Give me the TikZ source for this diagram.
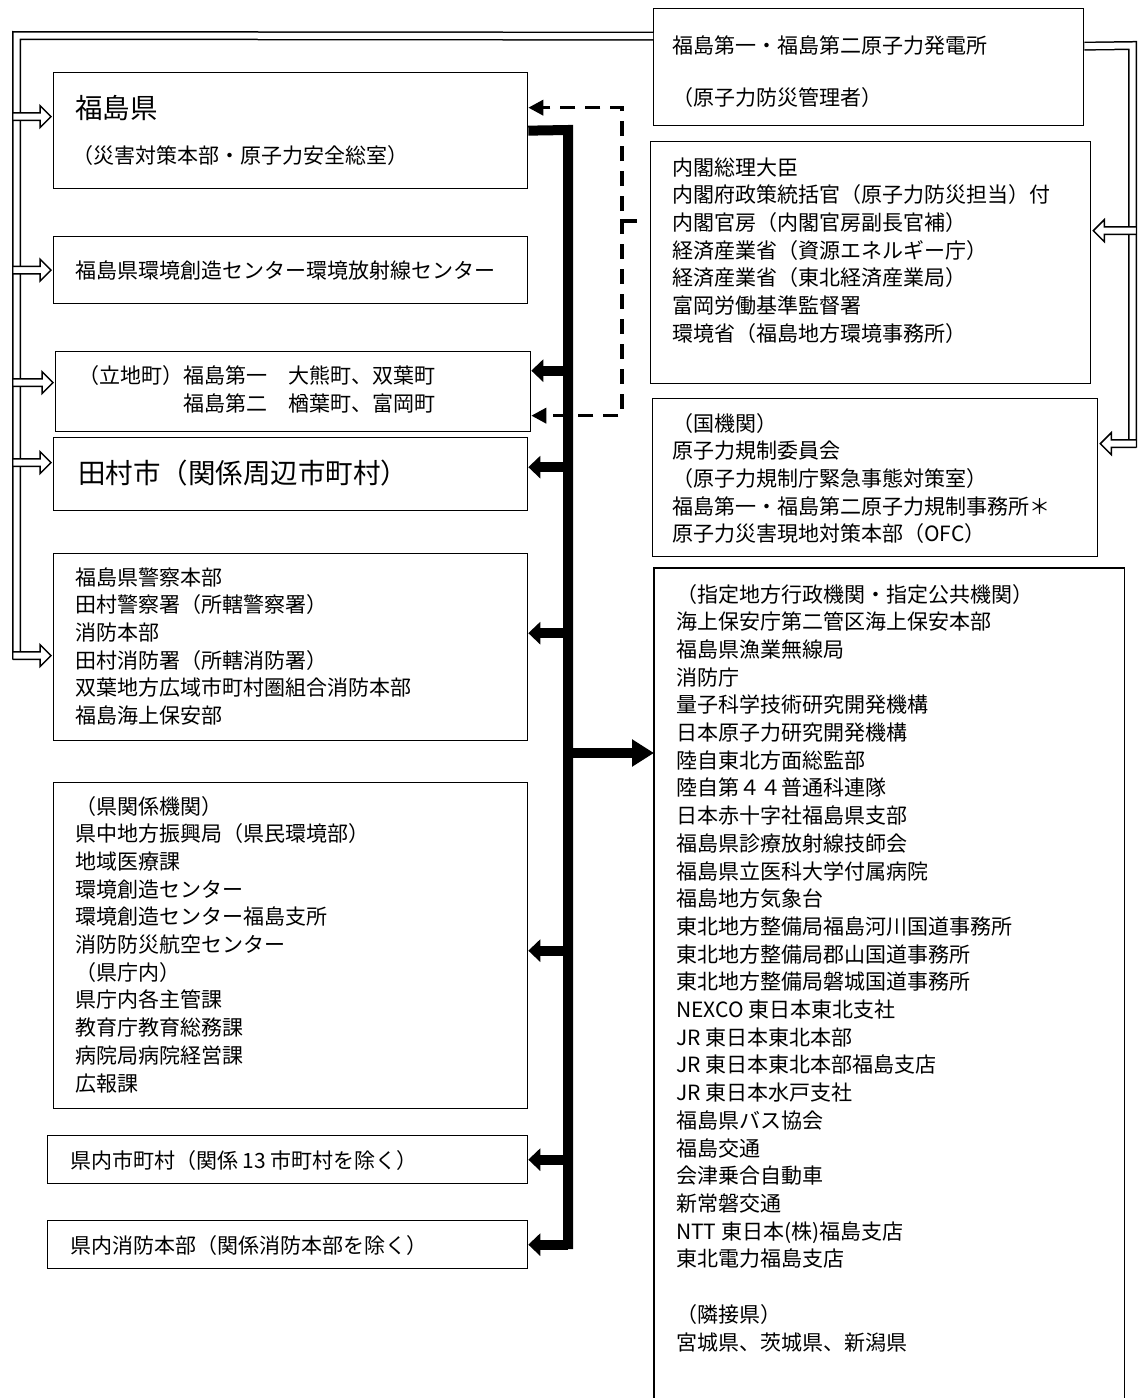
\documentclass[tikz,border=0pt]{standalone}
\usepackage{fontspec}
\newfontfamily\jp{Noto Sans CJK JP}
\usetikzlibrary{calc,arrows.meta}
\newcommand\hArrR[2]{%
  \fill[white] ($(#1|-#2)+(0.75,-3.75)$) -- ($(#2)+(-11,-3.75)$) -- ($(#2)+(-11,-11)$) -- (#2) -- ($(#2)+(-11,11)$) -- ($(#2)+(-11,3.75)$) -- ($(#1|-#2)+(0.75,3.75)$) -- cycle;
  \draw[hol] ($(#1|-#2)+(0,-3.75)$) -- ($(#2)+(-11,-3.75)$) -- ($(#2)+(-11,-11)$) -- (#2) -- ($(#2)+(-11,11)$) -- ($(#2)+(-11,3.75)$) -- ($(#1|-#2)+(0,3.75)$);}
\newcommand\hArrL[2]{%
  \fill[white] ($(#1|-#2)+(-0.75,-3.75)$) -- ($(#2)+(11,-3.75)$) -- ($(#2)+(11,-11)$) -- (#2) -- ($(#2)+(11,11)$) -- ($(#2)+(11,3.75)$) -- ($(#1|-#2)+(-0.75,3.75)$) -- cycle;
  \draw[hol] ($(#1|-#2)+(0,-3.75)$) -- ($(#2)+(11,-3.75)$) -- ($(#2)+(11,-11)$) -- (#2) -- ($(#2)+(11,11)$) -- ($(#2)+(11,3.75)$) -- ($(#1|-#2)+(0,3.75)$);}
\begin{document}
\begin{tikzpicture}[x=1pt,y=-1pt,
  font=\jp\fontsize{21}{27}\selectfont,
  box/.style={draw, line width=1.3pt, inner sep=0pt, anchor=north west},
  txt/.style={anchor=west, inner sep=0pt, text height=17.5pt, text depth=1.5pt},
  big/.style={font=\jp\fontsize{27.5}{34}\selectfont, text height=23pt, text depth=2pt},
  bus/.style={line width=10pt, line join=miter},
  tarr/.style={line width=10pt, -{Triangle[width=22pt,length=12pt]}},
  bigarr/.style={line width=10pt, -{Triangle[width=26pt,length=22pt]}},
  dashln/.style={line width=3.5pt, dash pattern=on 15pt off 10pt},
  dasharr/.style={dashln, -{Triangle[width=15pt,length=15pt]}},
  dbl/.style={line width=1.5pt, double=white, double distance=6pt, line join=miter},
  hol/.style={line width=1.5pt, line join=miter}
]
\useasboundingbox (0,0) rectangle (1142,1398);

% ---------- left boxes ----------
\node[box, minimum width=474pt, minimum height=116pt] (fk) at (53,72) {};
\node[box, minimum width=474pt, minimum height=67pt] (env) at (53,236) {};
\node[box, minimum width=475pt, minimum height=80pt] (rc) at (55,351) {};
\node[box, minimum width=474pt, minimum height=73pt] (tm) at (53,437) {};
\node[box, minimum width=474pt, minimum height=187pt] (pol) at (53,553) {};
\node[box, minimum width=474pt, minimum height=326pt] (pref) at (53,782) {};
\node[box, minimum width=480pt, minimum height=48pt] (mun) at (47,1135) {};
\node[box, minimum width=480pt, minimum height=48pt] (fd) at (47,1220) {};

% ---------- right boxes ----------
\node[box, minimum width=430pt, minimum height=117pt] (npp) at (653,8) {};
\node[box, minimum width=440pt, minimum height=242pt] (cab) at (650,141) {};
\node[box, minimum width=445pt, minimum height=158pt] (nra) at (652,398) {};
\node[anchor=north west, inner sep=0pt, minimum width=470pt, minimum height=840pt] (reg) at (654,568) {};
\draw[line width=1.3pt] (reg.south west) -- (reg.north west) -- (reg.north east) -- (reg.south east);

% ---------- texts ----------
\node[txt,big] (fk1) at (75,108) {福島県};
\node[txt] (fk2) at (72,155) {（災害対策本部・原子力安全総室）};
\node[txt] (env1) at (75,270) {福島県環境創造センター環境放射線センター};
\node[txt] (rct1) at (78,375) {（立地町）福島第一　大熊町、双葉町};
\node[txt] (rct2) at (183,403) {福島第二　楢葉町、富岡町};
\node[txt,big] (tm1) at (78,473) {田村市（関係周辺市町村）};
\foreach \lbl [count=\i] in {福島県警察本部,田村警察署（所轄警察署）,消防本部,田村消防署（所轄消防署）,双葉地方広域市町村圏組合消防本部,福島海上保安部}
  \node[txt] (polt\i) at (75,{577+27.7*(\i-1)}) {\lbl};
\foreach \lbl [count=\i] in {（県関係機関）,県中地方振興局（県民環境部）,地域医療課,環境創造センター,環境創造センター福島支所,消防防災航空センター,（県庁内）,県庁内各主管課,教育庁教育総務課,病院局病院経営課,広報課}
  \node[txt] (preft\i) at (75,{806+27.7*(\i-1)}) {\lbl};
\node[txt] (mun1) at (70,1160) {県内市町村（関係 13 市町村を除く）};
\node[txt] (fd1) at (70,1245) {県内消防本部（関係消防本部を除く）};

\node[txt] (npp1) at (672,45) {福島第一・福島第二原子力発電所};
\node[txt] (npp2) at (672,97) {（原子力防災管理者）};
\foreach \lbl [count=\i] in {内閣総理大臣,内閣府政策統括官（原子力防災担当）付,内閣官房（内閣官房副長官補）,経済産業省（資源エネルギー庁）,経済産業省（東北経済産業局）,富岡労働基準監督署,環境省（福島地方環境事務所）}
  \node[txt] (cabt\i) at (672,{167+27.7*(\i-1)}) {\lbl};
\foreach \lbl [count=\i] in {（国機関）,原子力規制委員会,（原子力規制庁緊急事態対策室）,福島第一・福島第二原子力規制事務所＊,原子力災害現地対策本部（OFC）}
  \node[txt] (nrat\i) at (672,{423+27.7*(\i-1)}) {\lbl};
\foreach \lbl [count=\i] in {（指定地方行政機関・指定公共機関）,海上保安庁第二管区海上保安本部,福島県漁業無線局,消防庁,量子科学技術研究開発機構,日本原子力研究開発機構,陸自東北方面総監部,陸自第４４普通科連隊,日本赤十字社福島県支部,福島県診療放射線技師会,福島県立医科大学付属病院,福島地方気象台,東北地方整備局福島河川国道事務所,東北地方整備局郡山国道事務所,東北地方整備局磐城国道事務所,NEXCO 東日本東北支社,JR 東日本東北本部,JR 東日本東北本部福島支店,JR 東日本水戸支社,福島県バス協会,福島交通,会津乗合自動車,新常磐交通,NTT 東日本(株)福島支店,東北電力福島支店}
  \node[txt] (regt\i) at (676,{594+27.7*(\i-1)}) {\lbl};
\node[txt] (regn1) at (676,1314) {（隣接県）};
\node[txt] (regn2) at (676,1342) {宮城県、茨城県、新潟県};

% ---------- thick bus ----------
\coordinate (bt) at (568,130);
\coordinate (bb) at (568,1249);
\draw[bus] (fk.east) -- (bt) -- (bb);
\coordinate (a1) at ([yshift=21pt]rc.east);
\coordinate (a2) at ([yshift=7pt]tm.east);
\coordinate (a3) at ([yshift=14pt]pol.east);
\coordinate (a4) at ([yshift=-5pt]pref.east);
\coordinate (a5) at (mun.east);
\coordinate (a6) at (fd.east);
\foreach \k in {1,...,6} \draw[tarr] (bt |- a\k) -- (a\k);
\coordinate (a7) at (reg.west |- 0,753);
\draw[bigarr] (bt |- a7) -- (a7);

% ---------- dashed ----------
\coordinate (dk) at (637,221);
\coordinate (dj) at (622,221);
\draw[line width=3.5pt] (dk) -- ([xshift=-1.75pt]dj);
\coordinate (dt1) at ([yshift=23pt]fk.east);
\coordinate (dt2) at ([yshift=-24pt]rc.east);
\draw[dasharr, dash phase=15pt] (dj) |- (dt1);
\draw[dasharr] ([yshift=1.75pt]dj) |- (dt2);

% ---------- double lines ----------
\coordinate (lc1) at (16.5,35.5);
\coordinate (lc2) at (16.5,659.5);
\draw[dbl] ([yshift=31pt]npp.west) -- (lc1) -- (lc2);
\coordinate (rk1) at (1132.5,45.5);
\coordinate (rk2) at (1132.5,447.5);
\draw[dbl] ([yshift=21pt]npp.east) -- (rk1) -- (rk2);

% ---------- hollow arrows ----------
\coordinate (lo) at (12.75,0);
\coordinate (ro) at (1136.25,0);
\coordinate (l1) at ([xshift=-2pt,yshift=14pt]fk.west);
\coordinate (l2) at ([xshift=-2pt]env.west);
\coordinate (l3) at ([xshift=-2pt,yshift=9pt]rc.west);
\coordinate (l4) at ([xshift=-2pt,yshift=11.5pt]tm.west);
\coordinate (l5) at ([xshift=-2pt,yshift=-8.5pt]pol.west);
\hArrR{lo}{l1}
\hArrR{lo}{l2}
\hArrR{lo}{l3}
\hArrR{lo}{l4}
\hArrR{lo}{l5}
\coordinate (r1) at ([xshift=2pt,yshift=32pt]cab.east);
\coordinate (r2) at ([xshift=2pt,yshift=34pt]nra.east);
\hArrL{ro}{r1}
\hArrL{ro}{r2}
\end{tikzpicture}
\end{document}
